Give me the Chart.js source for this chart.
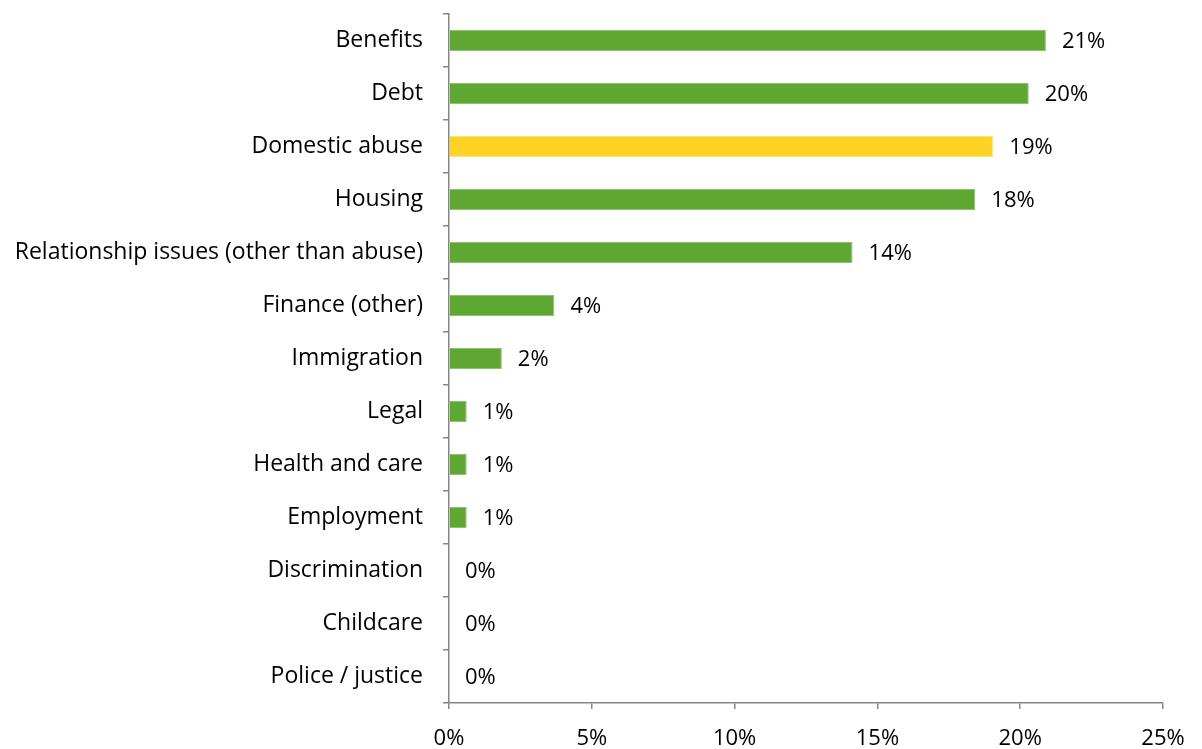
<!DOCTYPE html>
<html>
<head>
<meta charset="utf-8">
<script src="https://cdn.jsdelivr.net/npm/chart.js@4"></script>
<style>
  html, body { margin: 0; padding: 0; background: #fff; }
  #wrap { width: 1202px; height: 749px; }
</style>
</head>
<body>
<div id="wrap"><canvas id="issuesChart" width="1202" height="749"></canvas></div>
<script>
// values (percent of clients)
const categories = ['Benefits', 'Debt', 'Domestic abuse', 'Housing',
  'Relationship issues (other than abuse)', 'Finance (other)', 'Immigration',
  'Legal', 'Health and care', 'Employment', 'Discrimination', 'Childcare',
  'Police / justice'];
const shares = [20.9, 20.3, 19.06, 18.43, 14.13, 3.69, 1.85, 0.62, 0.62, 0.62, 0, 0, 0];
const shareLabels = ['21%', '20%', '19%', '18%', '14%', '4%', '2%', '1%', '1%', '1%', '0%', '0%', '0%'];
const xTicks = [0, 5, 10, 15, 20, 25];
const highlighted = 'Domestic abuse';

const FONT = '"Open Sans"';
const GREEN = '#5FA733';
const YELLOW = '#FFD324';
const AXIS = '#868686';

// draws the value labels just right of each bar
const valueLabels = {
  id: 'valueLabels',
  afterDatasetsDraw(chart) {
    const ctx = chart.ctx;
    const meta = chart.getDatasetMeta(0);
    ctx.save();
    ctx.font = '22px ' + FONT;
    ctx.fillStyle = '#000';
    ctx.textAlign = 'left';
    ctx.textBaseline = 'middle';
    meta.data.forEach(function (bar, i) {
      ctx.fillText(shareLabels[i], bar.x + 16, bar.y + 1);
    });
    ctx.restore();
  }
};

const ctx = document.getElementById('issuesChart');
new Chart(ctx, {
  type: 'bar',
  data: {
    labels: categories,
    datasets: [{
      data: shares,
      backgroundColor: categories.map(c => c === highlighted ? YELLOW : GREEN),
      borderColor: categories.map(c => c === highlighted ? '#FFE27A' : '#8CC46A'),
      borderWidth: 1,
      borderSkipped: 'left',
      barPercentage: 0.4,
      categoryPercentage: 1
    }]
  },
  plugins: [valueLabels],
  options: {
    indexAxis: 'y',
    responsive: false,
    animation: false,
    layout: { padding: { top: 14, right: 39, left: 0, bottom: 0 } },
    plugins: {
      legend: { display: false },
      tooltip: { enabled: false }
    },
    scales: {
      x: {
        min: 0,
        max: 25,
        afterBuildTicks(scale) {
          scale.ticks = xTicks.map(v => ({ value: v }));
        },
        afterFit(scale) { scale.height = 46; },
        grid: {
          drawOnChartArea: false,
          drawTicks: true,
          tickLength: 6,
          color: AXIS,
          lineWidth: 1.5
        },
        border: { display: true, color: AXIS, width: 1.5 },
        ticks: {
          padding: 17,
          color: '#000',
          font: { family: FONT, size: 22 },
          callback: v => v + '%'
        }
      },
      y: {
        afterFit(scale) {
          scale.width = 449;
          scale.paddingTop = 0;
          scale.paddingBottom = 0;
        },
        grid: {
          offset: true,
          drawOnChartArea: false,
          drawTicks: true,
          tickLength: 6,
          color: AXIS,
          lineWidth: 1.5
        },
        border: { display: true, color: AXIS, width: 1.5 },
        ticks: {
          padding: 20,
          color: '#000',
          font: { family: FONT, size: 23 }
        }
      }
    }
  }
});
</script>
</body>
</html>
